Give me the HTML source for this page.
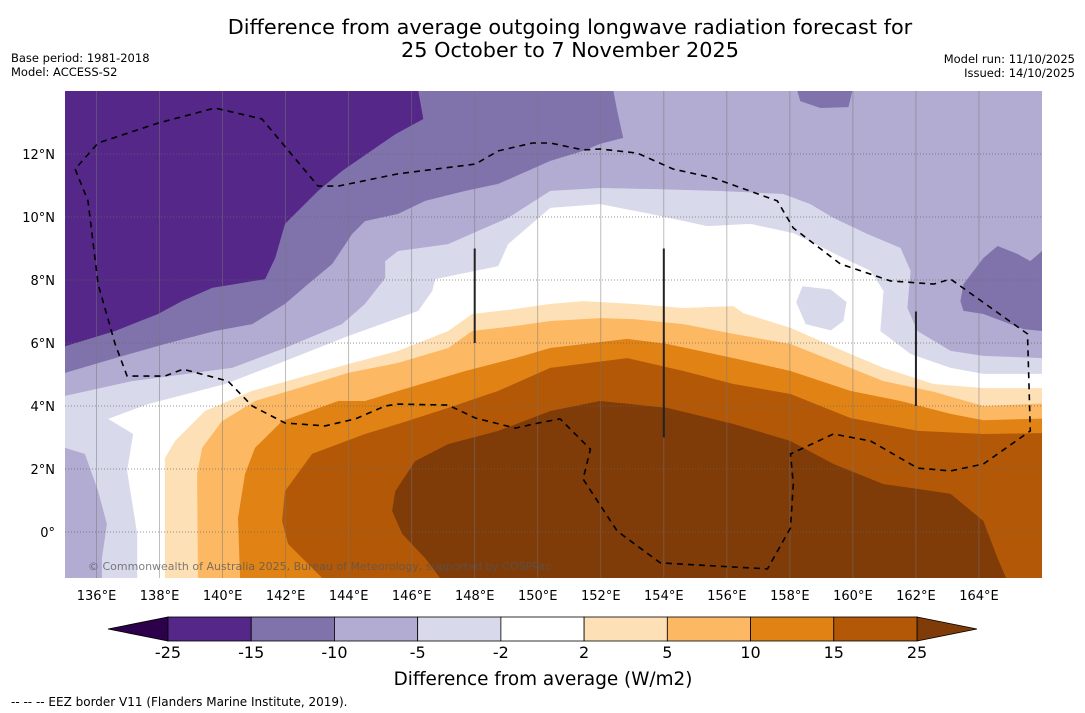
<!DOCTYPE html>
<html><head><meta charset="utf-8">
<style>
body{margin:0;background:#fff;font-family:"Liberation Sans","DejaVu Sans",sans-serif;}
svg{display:block}
</style></head>
<body>
<svg id="c" width="1085" height="713" xmlns="http://www.w3.org/2000/svg">
<text x="570" y="34" text-anchor="middle" font-size="20.8" font-family="DejaVu Sans, sans-serif">Difference from average outgoing longwave radiation forecast for</text>
<text x="570" y="57" text-anchor="middle" font-size="20.8" font-family="DejaVu Sans, sans-serif">25 October to 7 November 2025</text>
<text x="11" y="62" font-size="11.5" font-family="DejaVu Sans, sans-serif">Base period: 1981-2018</text>
<text x="11" y="76" font-size="11.5" font-family="DejaVu Sans, sans-serif">Model: ACCESS-S2</text>
<text x="1075" y="63" text-anchor="end" font-size="11.5" font-family="DejaVu Sans, sans-serif">Model run: 11/10/2025</text>
<text x="1075" y="77" text-anchor="end" font-size="11.5" font-family="DejaVu Sans, sans-serif">Issued: 14/10/2025</text>
<defs><clipPath id="mapclip"><rect x="65" y="91" width="977" height="487"/></clipPath></defs>
<g id="map" clip-path="url(#mapclip)"></g>
<g id="axes"></g>
<g id="cbar"></g>
<text x="543" y="685" text-anchor="middle" font-size="18.4" font-family="DejaVu Sans, sans-serif">Difference from average (W/m2)</text>
<text x="11" y="706" font-size="12" font-family="DejaVu Sans, sans-serif">--  --  -- EEZ border V11 (Flanders Marine Institute, 2019).</text>
</svg>
<script>
// ---- data (lon/lat contour polygons of OLR anomaly) ----
const lonTicks=[136,138,140,142,144,146,148,150,152,154,156,158,160,162,164];
const latTicks=[12,10,8,6,4,2,0];
const latTickLabels=["12°N","10°N","8°N","6°N","4°N","2°N","0°"];
const levels=[-25,-15,-10,-5,-2,2,5,10,15,25];
const levelColors=["#542788","#8073ac","#b2abd2","#d8daeb","#ffffff","#fee0b6","#fdb863","#e08214","#b35806"];
const lowColor="#2d004b", highColor="#7f3b08";
// contour < -2
const p1Lon=[137.29,137.29,136.97,137.16,136.37,137.63,140.08,141.98,143.98,146.21,146.65,146.75,148.75,149.06,150.40,151.98,153.57,155.38,156.75,158.11,159.70,160.56,160.97,160.87,161.83,163.10,164.14,166,166,135,135];
const p1Lat=[-1.55,-0.06,1.94,3.11,3.59,4.06,4.70,5.43,6.22,7.02,7.65,8.03,8.44,9.14,10.29,10.41,10.10,9.71,9.78,9.49,8.70,8.29,7.65,6.38,5.65,5.21,5.02,5.02,14,14,-1.55];
const blobLon=[158.4,159.3,159.8,159.7,159.3,158.5,158.2];
const blobLat=[7.8,7.7,7.3,6.7,6.4,6.6,7.3];
// contour < -5
const p2Lon=[135,137.13,140.30,141.98,143.79,144.52,145.16,145.16,145.57,147.16,148.11,149.06,150.40,151.98,153.57,155.70,157.79,158.65,159.38,160.46,161.51,161.83,161.73,162.05,163.10,164.14,166,166,135];
const p2Lat=[4.32,4.79,5.21,5.84,6.60,7.24,8.06,8.60,8.92,9.14,9.56,9.97,10.83,10.92,10.89,10.83,10.73,10.41,9.97,9.46,9.02,8.29,7.11,6.38,5.75,5.59,5.52,14,14];
const p2bLon=[135,135.63,136.05,136.33,136.17,136.17,135];
const p2bLat=[2.67,2.48,1.30,0.25,-0.83,-1.55,-1.55];
// contour < -10
const p3Lon=[135,136.59,138.17,139.76,140.94,141.98,142.71,143.48,144.11,144.52,145.57,146.43,147.70,148.75,150.40,151.44,151.98,152.71,152.52,152.40,135];
const p3Lat=[5.05,5.52,5.97,6.38,6.60,7.24,7.87,8.51,9.46,9.87,10.10,10.51,10.83,11.05,11.78,12.10,12.32,12.51,13.37,14,14];
const p3bLon=[158.24,158.33,158.97,159.86,159.98];
const p3bLat=[14,13.68,13.46,13.49,14];
const p3cLon=[163.41,163.51,164.14,164.59,165.22,165.63,166,166,165.41,164.14,163.51];
const p3cLat=[7.33,7.87,8.70,9.08,8.83,8.60,8.92,6.38,6.44,6.92,7.02];
// contour < -15
const p4Lon=[135,136.59,137.95,138.71,139.67,141.35,141.67,141.98,143.03,143.79,145.48,146.37,146.21,135];
const p4Lat=[5.90,6.38,6.92,7.33,7.75,8.03,8.70,9.78,10.83,11.46,12.63,13.11,14,14];
// contour > 2
const b1Lon=[138.17,138.17,138.49,139.44,140.94,142.40,143.98,145.57,147.16,147.92,149.29,150.40,151.44,153.03,154.62,156.21,156.52,158.02,159.92,160.97,162.56,164.14,166,166];
const b1Lat=[-1.55,2.35,2.89,3.84,4.48,4.89,5.33,5.75,6.38,6.92,7.08,7.24,7.33,7.24,7.11,7.17,6.95,6.48,5.65,5.21,4.70,4.57,4.57,-1.55];
// contour > 5
const b2Lon=[139.22,139.19,139.35,139.98,141.03,142.40,143.98,145.57,147.16,147.92,149.29,150.40,151.98,153.03,154.62,156.21,158.02,159.92,160.97,162.56,164.14,166,166];
const b2Lat=[-1.55,1.84,2.67,3.52,4.16,4.57,5.05,5.37,5.84,6.38,6.54,6.70,6.79,6.76,6.60,6.29,5.97,5.21,4.79,4.45,4.00,4.08,-1.55];
// contour > 10
const b3Lon=[140.56,140.49,140.71,141.03,141.89,143.67,144.52,145.57,147.70,149.29,150.40,152.84,154.11,156.21,158.02,159.92,161.51,163.10,164.14,166,166];
const b3Lat=[-1.55,0.44,1.84,2.67,3.52,4.16,4.16,4.48,5.11,5.52,5.84,6.13,5.97,5.52,5.11,4.48,4.16,3.75,3.55,3.60,-1.55];
// contour > 15
const b4Lon=[143.25,142.08,141.89,141.98,142.84,144.52,145.57,147.16,148.75,150.40,152.84,154.62,156.21,158.02,159.92,162.05,164.14,166,166];
const b4Lat=[-1.55,-0.38,0.35,1.30,2.48,3.11,3.43,3.94,4.48,5.21,5.52,5.11,4.70,4.38,3.62,3.21,3.11,3.14,-1.55];
// contour > 25
const b5Lon=[146.97,146.43,145.70,145.38,145.48,146.11,147.16,148.75,150.40,151.98,154.11,156.21,158.02,159.38,160.97,162.05,163.10,164.14,164.59,164.90];
const b5Lat=[-1.55,-0.83,-0.06,0.67,1.30,2.25,2.79,3.21,3.84,4.16,3.94,3.43,2.89,2.16,1.52,1.37,1.21,0.35,-0.83,-1.55];
// EEZ border
const eezLon=[135.32,135.73,136.05,136.59,136.97,138.17,138.75,140.17,140.94,141.98,143.25,144.21,145.16,145.57,147.16,148.02,149.29,150.02,150.71,151.67,151.44,152.52,153.89,157.29,158.02,158.11,158.02,159.38,160.56,162.05,163.10,164.14,165.63,165.54,163.10,162.56,161.19,159.60,158.11,157.60,155.57,154.30,153.16,151.98,151.44,150.40,149.83,148.75,148.02,147.79,145.57,143.67,143.03,141.25,139.76,137.95,136.05,135.32];
const eezLat=[11.52,10.51,7.87,5.97,4.95,4.95,5.17,4.79,4.00,3.46,3.37,3.59,4.00,4.06,4.03,3.62,3.30,3.46,3.59,2.63,1.68,0.03,-0.98,-1.17,0.13,1.52,2.48,3.11,2.89,2.03,1.94,2.16,3.21,6.29,8.03,7.87,7.97,8.51,9.65,10.51,11.24,11.52,12.03,12.16,12.13,12.35,12.35,12.10,11.68,11.65,11.37,10.98,10.98,13.11,13.46,12.98,12.35,11.52];
// boundary segments (lon, lat top, lat bottom)
const segLon=[148,154,162];
const segLatTop=[9,9,7];
const segLatBot=[6,3,4];

// ---- axis functions ----
const X0=65,X1=1042,Y0=91,Y1=578,LON0=135,LON1=166,LAT0=-1.46,LAT1=14;
const sx=lon=>X0+(lon-LON0)*(X1-X0)/(LON1-LON0);
const sy=lat=>Y0+(LAT1-lat)*(Y1-Y0)/(LAT1-LAT0);
const NS="http://www.w3.org/2000/svg";
function mk(tag,parent){const e=document.createElementNS(NS,tag);parent.appendChild(e);return e;}
const map=document.getElementById('map');
function poly(lons,lats,fill,name){
  const e=mk('polygon',map);
  e.setAttribute('points',lons.map((l,i)=>sx(l).toFixed(1)+','+sy(lats[i]).toFixed(1)).join(' '));
  e.setAttribute('fill',fill);
  
  
  return e;
}
const bg=mk('rect',map);
bg.setAttribute('x',X0);bg.setAttribute('y',Y0);bg.setAttribute('width',X1-X0);bg.setAttribute('height',Y1-Y0);bg.setAttribute('fill','#ffffff');


poly(p1Lon,p1Lat,levelColors[3],'region-below-minus2');
poly(blobLon,blobLat,levelColors[3],'region-below-minus2-island');
poly(p2Lon,p2Lat,levelColors[2],'region-below-minus5');
poly(p2bLon,p2bLat,levelColors[2],'region-below-minus5-southwest');
poly(p3Lon,p3Lat,levelColors[1],'region-below-minus10');
poly(p3bLon,p3bLat,levelColors[1],'region-below-minus10-north');
poly(p3cLon,p3cLat,levelColors[1],'region-below-minus10-east');
poly(p4Lon,p4Lat,levelColors[0],'region-below-minus15');
poly(b1Lon,b1Lat,levelColors[5],'region-above-2');
poly(b2Lon,b2Lat,levelColors[6],'region-above-5');
poly(b3Lon,b3Lat,levelColors[7],'region-above-10');
poly(b4Lon,b4Lat,levelColors[8],'region-above-15');
poly(b5Lon,b5Lat,highColor,'region-above-25');
// gridlines
lonTicks.forEach(l=>{const e=mk('line',map);e.setAttribute('x1',sx(l));e.setAttribute('x2',sx(l));e.setAttribute('y1',Y0);e.setAttribute('y2',Y1);e.setAttribute('stroke','#777');e.setAttribute('stroke-width','0.8');e.setAttribute('stroke-opacity','0.6');

});
latTicks.forEach(l=>{const e=mk('line',map);e.setAttribute('x1',X0);e.setAttribute('x2',X1);e.setAttribute('y1',sy(l));e.setAttribute('y2',sy(l));e.setAttribute('stroke','#666');e.setAttribute('stroke-width','1');e.setAttribute('stroke-dasharray','1,2');e.setAttribute('stroke-opacity','0.7');

});
// EEZ
const ez=mk('polyline',map);
ez.setAttribute('points',eezLon.map((l,i)=>sx(l).toFixed(1)+','+sy(eezLat[i]).toFixed(1)).join(' '));
ez.setAttribute('fill','none');ez.setAttribute('stroke','#000');ez.setAttribute('stroke-width','1.6');ez.setAttribute('stroke-dasharray','6,5');


segLon.forEach((l,i)=>{const e=mk('line',map);e.setAttribute('x1',sx(l));e.setAttribute('x2',sx(l));e.setAttribute('y1',sy(segLatTop[i]));e.setAttribute('y2',sy(segLatBot[i]));e.setAttribute('stroke','#222');e.setAttribute('stroke-width','2');

});
const cp=mk('text',map);cp.textContent='© Commonwealth of Australia 2025, Bureau of Meteorology, supported by COSPPac';
cp.setAttribute('x',88);cp.setAttribute('y',570);cp.setAttribute('font-size','11');cp.setAttribute('fill','#555');cp.setAttribute('fill-opacity','0.75');cp.setAttribute('font-family','DejaVu Sans, sans-serif');


// axes labels
const axes=document.getElementById('axes');
lonTicks.forEach(l=>{const t=mk('text',axes);t.textContent=l+'°E';t.setAttribute('x',sx(l));t.setAttribute('y',600);t.setAttribute('text-anchor','middle');t.setAttribute('font-size','13');t.setAttribute('font-family','DejaVu Sans, sans-serif');

});
latTicks.forEach((l,i)=>{const t=mk('text',axes);t.textContent=latTickLabels[i];t.setAttribute('x',55);t.setAttribute('y',sy(l)+5);t.setAttribute('text-anchor','end');t.setAttribute('font-size','13');t.setAttribute('font-family','DejaVu Sans, sans-serif');

});
// colorbar
const cb=document.getElementById('cbar');
const CX0=168,CX1=917,CY0=617,CY1=641;
const bw=(CX1-CX0)/levelColors.length;
const lt=mk('polygon',cb);lt.setAttribute('points',`108,629 ${CX0},${CY0} ${CX0},${CY1}`);lt.setAttribute('fill',lowColor);lt.setAttribute('stroke','#000');lt.setAttribute('stroke-width','0.8');


const rt=mk('polygon',cb);rt.setAttribute('points',`977,629 ${CX1},${CY0} ${CX1},${CY1}`);rt.setAttribute('fill',highColor);rt.setAttribute('stroke','#000');rt.setAttribute('stroke-width','0.8');


levelColors.forEach((c,i)=>{const r=mk('rect',cb);r.setAttribute('x',CX0+i*bw);r.setAttribute('y',CY0);r.setAttribute('width',bw);r.setAttribute('height',CY1-CY0);r.setAttribute('fill',c);r.setAttribute('stroke','#000');r.setAttribute('stroke-width','0.8');

});
levels.forEach((v,i)=>{const t=mk('text',cb);t.textContent=v;t.setAttribute('x',CX0+i*bw);t.setAttribute('y',658);t.setAttribute('text-anchor','middle');t.setAttribute('font-size','16');t.setAttribute('font-family','DejaVu Sans, sans-serif');

});
</script>
</body></html>
